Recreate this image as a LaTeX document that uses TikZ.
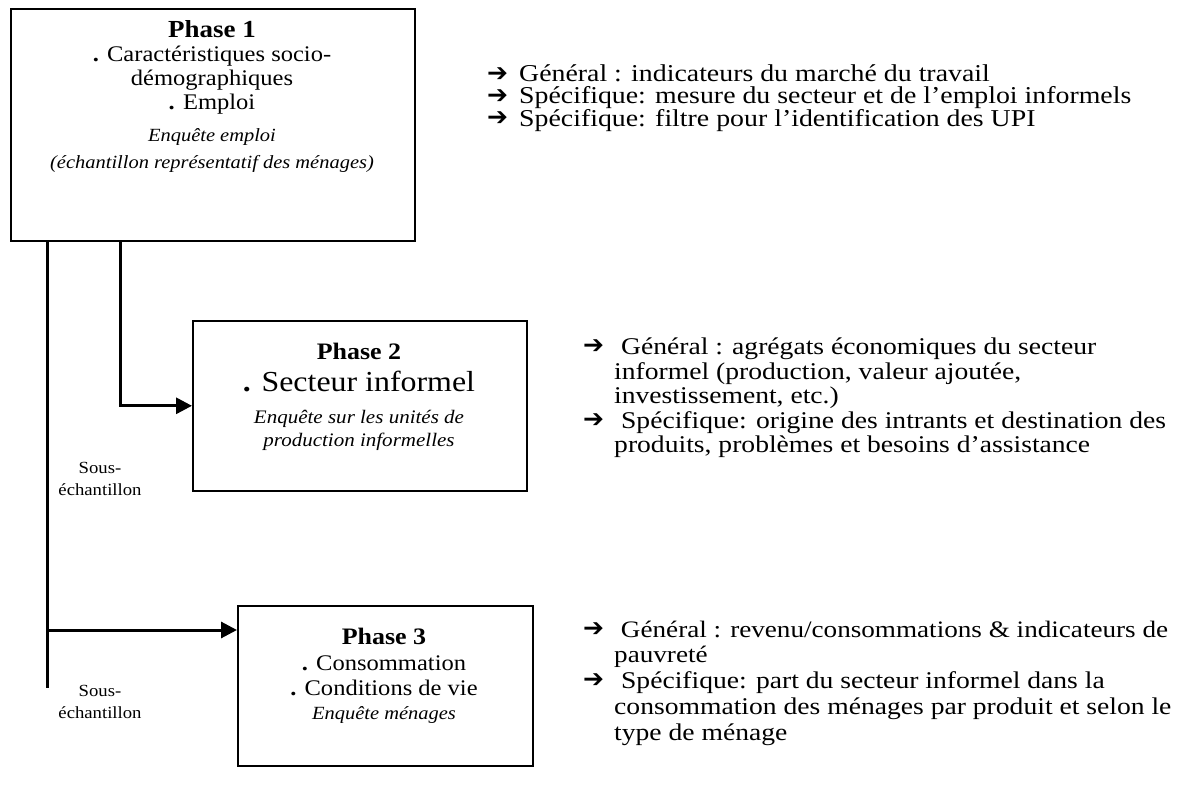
\documentclass[tikz,border=0pt]{standalone}
\usepackage{fontspec}
\setmainfont[FakeStretch=1.1]{Liberation Serif}
\newfontfamily\goalfont[FakeStretch=1.15]{Liberation Serif}
\newfontfamily\arrowfont{DejaVu Sans}
\usetikzlibrary{arrows.meta}

\tikzset{
  phasebox/.style={draw=black, line width=1.6pt, rectangle, inner sep=0pt, anchor=north west},
  link/.style={draw=black, line width=3pt},
  tip/.style={-{Triangle[length=16pt,width=16pt]}},
  boxtext/.style={anchor=base, align=center, inner sep=0pt, font=\fontsize{22.3}{24}\selectfont},
  goaltip/.style={anchor=base west, inner sep=0pt, text height=14pt, text depth=0pt, font=\arrowfont\bfseries\fontsize{25}{22}\selectfont},
  goaltext/.style={anchor=base west, align=left, inner sep=0pt, font=\goalfont\fontsize{24}{24.5}\selectfont},
  subtext/.style={anchor=base, align=center, inner sep=0pt, font=\fontsize{17}{22}\selectfont}
}

\begin{document}
\begin{tikzpicture}[x=1pt,y=-1pt]
\useasboundingbox (0,0) rectangle (1179,799);

% phase boxes
\node[phasebox, minimum width=404pt, minimum height=232pt] (p1) at (10,8) {};
\node[phasebox, minimum width=334pt, minimum height=170pt] (p2) at (192,320) {};
\node[phasebox, minimum width=295pt, minimum height=160pt] (p3) at (237,605) {};

\node[boxtext] (p1txt) at (212,169) {{\fontsize{24.5}{24}\selectfont\bfseries Phase 1}\\
  \textbf{.} Caractéristiques socio-\\ démographiques\\ \textbf{.} Emploi\\[8pt]
  {\fontsize{18.6}{24}\selectfont\itshape Enquête emploi}\\[3pt]
  {\fontsize{18.6}{24}\selectfont\itshape (échantillon représentatif des ménages)}};
\node[boxtext] (p2txt) at (359,447) {{\fontsize{23.6}{24}\selectfont\bfseries Phase 2}\\[8pt]
  {\fontsize{29}{24}\selectfont\textbf{.} Secteur informel}\\[8pt]
  {\fontsize{19.1}{24}\selectfont\itshape Enquête sur les unités de}\\[-1pt]
  {\fontsize{19.1}{24}\selectfont\itshape production informelles}};
\node[boxtext] (p3txt) at (384,719) {{\fontsize{23.6}{24}\selectfont\bfseries Phase 3}\\[2pt]
  \textbf{.} Consommation\\[1pt] \textbf{.} Conditions de vie\\
  {\fontsize{18.6}{24}\selectfont\itshape Enquête ménages}};

% connectors
\coordinate (trunk) at ([xshift=37pt]p1.south west);
\coordinate (trunkend) at (47,688);
\coordinate (split2) at ([xshift=110pt]p1.south west);
\coordinate (in3) at ([yshift=-25pt]p3.north west);
\draw[link] (trunk) -- (trunkend);
\draw[link,tip] (split2) |- (p2.west);
\draw[link,tip] (trunk |- in3) -- (in3);

\node[subtext] (sub2) at (100,496) {Sous-\\échantillon};
\node[subtext] (sub3) at (100,718) {Sous-\\échantillon};

% results of each phase
\node[goaltip] (a1) at (487,82) {➔};
\node[goaltip] (a2) at (487,104) {➔};
\node[goaltip] (a3) at (487,126) {➔};
\node[goaltext, font=\goalfont\fontsize{24.2}{22}\selectfont] (g1) at (519,127) {Général : indicateurs du marché du travail\\
  Spécifique: mesure du secteur et de l’emploi informels\\
  Spécifique: filtre pour l’identification des UPI};

\node[goaltip] (a4) at (583,354) {➔};
\node[goaltext] (g4) at (614,404) {\ Général : agrégats économiques du secteur\\
  informel (production, valeur ajoutée,\\ investissement, etc.)};
\node[goaltip] (a5) at (583,428) {➔};
\node[goaltext] (g5) at (614,453) {\ Spécifique: origine des intrants et destination des\\
  produits, problèmes et besoins d’assistance};

\node[goaltip] (a6) at (583,636) {➔};
\node[goaltext, font=\goalfont\fontsize{23.6}{25}\selectfont] (g6) at (614,662) {\ Général : revenu/consommations \& indicateurs de\\ pauvreté};
\node[goaltip] (a7) at (583,687) {➔};
\node[goaltext, font=\goalfont\fontsize{24}{26}\selectfont] (g7) at (614,740) {\ Spécifique: part du secteur informel dans la\\
  consommation des ménages par produit et selon le\\ type de ménage};
\end{tikzpicture}
\end{document}
